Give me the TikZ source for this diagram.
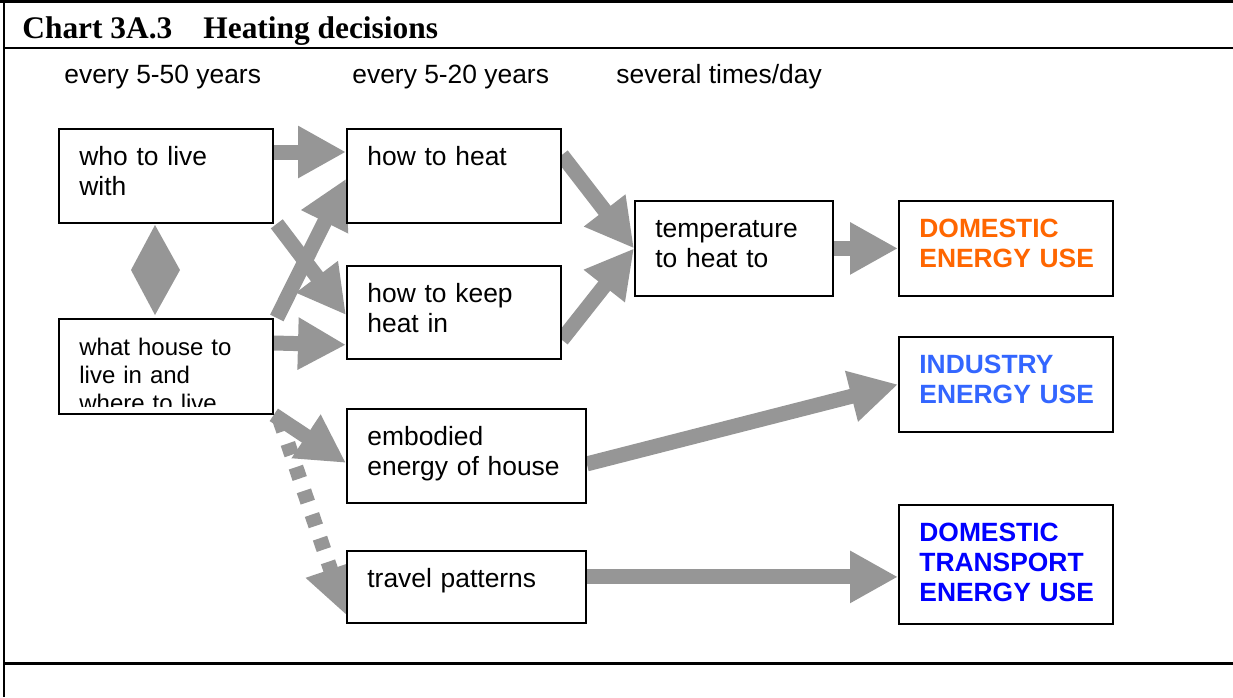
\documentclass[tikz,border=0pt]{standalone}
\usepackage{fontspec}
\setmainfont{Liberation Serif}
\newfontfamily\arialfont{Liberation Sans}
\usetikzlibrary{arrows.meta}

\definecolor{flowgray}{RGB}{150,150,150}
\definecolor{domorange}{RGB}{255,102,0}
\definecolor{indblue}{RGB}{51,102,255}
\definecolor{trnblue}{RGB}{0,0,255}

\newcommand{\boxfont}{\arialfont\fontsize{13.2}{15}\selectfont}

\pgfdeclarelayer{background}
\pgfsetlayers{background,main}

\tikzset{
  box/.style={draw, fill=white, line width=0.9pt, anchor=north west, inner sep=0pt},
  txt/.style={anchor=base west, inner sep=0pt, align=left, text width=120pt, font=\boxfont},
  enduse/.style={txt, font=\boxfont\bfseries},
  flow/.style={draw=flowgray, line width=7.5pt, -{Triangle[length=24pt,width=24.5pt]}},
}

\begin{document}
\begin{tikzpicture}[x=0.5pt, y=-0.5pt]
\useasboundingbox (0,0) rectangle (1233,697);

% frame of the chart
\draw[line width=1.5pt] (0,1.5) -- (1233,1.5);
\draw[line width=1pt] (4,0) -- (4,697);
\draw[line width=1pt] (4,47.5) -- (1233,47.5);
\draw[line width=1.5pt] (4,663.5) -- (1233,663.5);
\node[anchor=base west, inner sep=0pt, font=\fontsize{15.7}{18}\selectfont\bfseries] (title) at (22,38)
  {Chart 3A.3\hspace{15.5pt}Heating decisions};

% how often
\node[anchor=base west, inner sep=0pt, font=\boxfont] (often1) at (64,83) {every 5-50 years};
\node[anchor=base west, inner sep=0pt, font=\boxfont] (often2) at (352,83) {every 5-20 years};
\node[anchor=base west, inner sep=0pt, font=\boxfont] (often3) at (616,83) {several times/day};

% decisions
\node[box, minimum width=107pt, minimum height=47pt] (who) at (58,128) {};
\node[txt] (who-t) at (79,165) {who to live\\with};
\node[box, minimum width=107pt, minimum height=47.5pt] (what) at (58,318) {};
\begin{scope}
  \clip (58,318) rectangle (272,406);
  \node[txt, font=\arialfont\fontsize{12}{14}\selectfont] (what-t) at (79,355)
    {what house to\\live in and\\where to live};
\end{scope}
\node[box, minimum width=107pt, minimum height=47pt] (heat) at (346,128) {};
\node[txt] (heat-t) at (367,165) {how to heat};
\node[box, minimum width=107pt, minimum height=46.5pt] (keep) at (346,265) {};
\node[txt] (keep-t) at (367,302) {how to keep\\heat in};
\node[box, minimum width=119.5pt, minimum height=47pt] (emb) at (346,408) {};
\node[txt] (emb-t) at (367,445) {embodied\\energy of house};
\node[box, minimum width=119.5pt, minimum height=36pt] (travel) at (346,550) {};
\node[txt] (travel-t) at (367,587) {travel patterns};
\node[box, minimum width=99pt, minimum height=47.5pt] (temp) at (634,200) {};
\node[txt] (temp-t) at (655,237) {temperature\\to heat to};

% energy use
\node[box, minimum width=107pt, minimum height=47.5pt] (dom) at (898,200) {};
\node[enduse, text=domorange] (dom-t) at (919,237) {DOMESTIC\\ENERGY USE};
\node[box, minimum width=107pt, minimum height=47.5pt] (ind) at (898,336) {};
\node[enduse, text=indblue] (ind-t) at (919,373) {INDUSTRY\\ENERGY USE};
\node[box, minimum width=107pt, minimum height=59.5pt] (trans) at (898,504) {};
\node[enduse, text=trnblue] (trans-t) at (919,541) {DOMESTIC\\TRANSPORT\\ENERGY USE};

\begin{pgfonlayer}{background}
  \fill[flowgray] (155,225) -- (180,270) -- (155,315) -- (131,270) -- cycle;
  \draw[flow] ([yshift=-12pt]who.north east) -- ([yshift=-12pt]heat.north west);
  \draw[flow] ([yshift=-12.5pt]what.north east) -- ([yshift=7.5pt]keep.south west);
  \draw[flow] ([xshift=1.5pt]what.north east) -- ([yshift=22.5pt]heat.south west);
  \draw[flow] ([xshift=1.5pt]who.south east) -- ([yshift=-25pt]keep.north west);
  \draw[flow] (what.south east) -- ([yshift=-3.5pt]emb.west);
  \draw[flow, dash pattern=on 6pt off 6.5pt] ([shift={(3pt,-2.5pt)}]what.south east)
    -- ([yshift=4.5pt]travel.south west);
  \draw[flow] ([yshift=-13.5pt]heat.north east) -- (temp.west);
  \draw[flow] ([yshift=10pt]keep.south east) -- (temp.west);
  \draw[flow] (temp.east) -- (dom.west);
  \draw[flow] ([yshift=-4pt]emb.east) -- (ind.west);
  \draw[flow] ([yshift=5pt]travel.east) -- ([yshift=-6.25pt]trans.west);
\end{pgfonlayer}
\end{tikzpicture}
\end{document}
